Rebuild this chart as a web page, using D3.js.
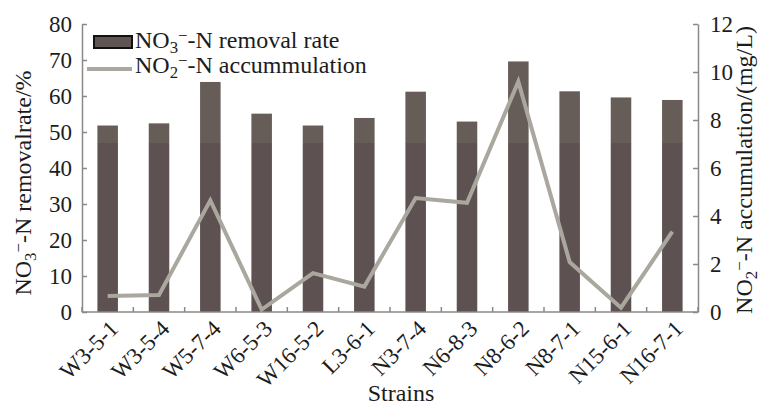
<!DOCTYPE html>
<html>
<head>
<meta charset="utf-8">
<script src="https://cdn.jsdelivr.net/npm/d3@7"></script>
<style>
  html, body { margin: 0; padding: 0; background: #fff; }
  svg { display: block; }
  svg text { font-family: "Liberation Serif", "Times New Roman", Times, serif !important; }
</style>
</head>
<body>
<svg id="chart" width="761" height="405"></svg>
<script>
// Strains tested and their measured values
const strains = ["W3-5-1", "W3-5-4", "W5-7-4", "W6-5-3", "W16-5-2", "L3-6-1",
                 "N3-7-4", "N6-8-3", "N8-6-2", "N8-7-1", "N15-6-1", "N16-7-1"];
// NO3--N removal rate (%)
const removalRate = [51.8, 52.4, 63.9, 55.1, 51.8, 53.9, 61.2, 52.9, 69.6, 61.3, 59.6, 58.9];
// NO2--N accumulation (mg/L)
const nitriteAccum = [0.67, 0.71, 4.65, 0.1, 1.62, 1.06, 4.75, 4.55, 9.6, 2.08, 0.18, 3.35];
// Axis ticks
const leftTicks = [0, 10, 20, 30, 40, 50, 60, 70, 80];
const rightTicks = [0, 2, 4, 6, 8, 10, 12];

const svg = d3.select("#chart");
const m = { left: 82, right: 698, top: 24, bottom: 312 };

const x = d3.scaleBand().domain(strains).range([m.left, m.right])
  .paddingInner(0.6).paddingOuter(0.3);
const yL = d3.scaleLinear().domain([0, 80]).range([m.bottom, m.top]);
const yR = d3.scaleLinear().domain([0, 12]).range([m.bottom, m.top]);

const axisColor = "#8e8787";
const textColor = "#1c1c1c";

// Two-tone bar fill
const defs = svg.append("defs");
const grad = defs.append("linearGradient").attr("id", "barFill")
  .attr("gradientUnits", "userSpaceOnUse")
  .attr("x1", 0).attr("x2", 0).attr("y1", yL(80)).attr("y2", yL(0));
const split = (yL(47) - yL(80)) / (yL(0) - yL(80));
grad.append("stop").attr("offset", 0).attr("stop-color", "#675d58");
grad.append("stop").attr("offset", split).attr("stop-color", "#675d58");
grad.append("stop").attr("offset", split).attr("stop-color", "#5e5151");
grad.append("stop").attr("offset", 1).attr("stop-color", "#5e5151");

// Bars
svg.append("g").selectAll("rect").data(strains).join("rect")
  .attr("x", d => x(d))
  .attr("width", x.bandwidth())
  .attr("y", (d, i) => yL(removalRate[i]))
  .attr("height", (d, i) => yL(0) - yL(removalRate[i]))
  .attr("fill", "url(#barFill)");

// Left axis
const gL = svg.append("g").attr("transform", `translate(${m.left},0)`)
  .call(d3.axisLeft(yL).tickValues(leftTicks).tickSizeInner(-5).tickSizeOuter(0).tickPadding(10));
// Right axis
const gR = svg.append("g").attr("transform", `translate(${m.right},0)`)
  .call(d3.axisRight(yR).tickValues(rightTicks).tickSizeInner(-5).tickSizeOuter(0).tickPadding(12));
[gL, gR].forEach(g => {
  g.select(".domain").attr("stroke", axisColor).attr("stroke-width", 1.5);
  g.selectAll(".tick line").attr("stroke", axisColor).attr("stroke-width", 1.5);
  g.selectAll(".tick text").attr("fill", textColor).style("font-size", "23px");
});

// Bottom axis with ticks at band boundaries
const step = x.step();
const bounds = strains.map(d => x(d) + x.bandwidth() / 2 - step / 2).concat([m.right]);
const gB = svg.append("g");
gB.append("line").attr("x1", m.left).attr("x2", m.right)
  .attr("y1", m.bottom).attr("y2", m.bottom)
  .attr("stroke", axisColor).attr("stroke-width", 1.5);
gB.selectAll("line.tk").data(bounds).join("line").attr("class", "tk")
  .attr("x1", d => d).attr("x2", d => d)
  .attr("y1", m.bottom).attr("y2", m.bottom - 5)
  .attr("stroke", axisColor).attr("stroke-width", 1.5);
gB.selectAll("text").data(strains).join("text")
  .attr("transform", d => `translate(${x(d) + x.bandwidth() / 2 + 12},${m.bottom + 18}) rotate(-45)`)
  .attr("text-anchor", "end")
  .attr("fill", textColor)
  .style("font-size", "23px")
  .text(d => d);

// Nitrite line
const line = d3.line()
  .x((d, i) => x(strains[i]) + x.bandwidth() / 2)
  .y(d => yR(d));
svg.append("path").datum(nitriteAccum)
  .attr("d", line)
  .attr("fill", "none")
  .attr("stroke", "#aaa79e")
  .attr("stroke-width", 4)
  .attr("stroke-linejoin", "miter");

// Helper for chemical formulas with sub/superscripts
function formula(sel, sub, rest) {
  sel.append("tspan").text("NO");
  sel.append("tspan").attr("baseline-shift", "-30%").style("font-size", "70%").text(sub);
  sel.append("tspan").attr("baseline-shift", "40%").style("font-size", "70%").text("−");
  sel.append("tspan").text(rest);
}

// Axis titles
const tL = svg.append("text")
  .attr("transform", "translate(31,183) rotate(-90)")
  .attr("text-anchor", "middle").attr("fill", textColor).style("font-size", "24px");
formula(tL, "3", "-N removalrate/%");

const tR = svg.append("text")
  .attr("transform", "translate(752,170) rotate(-90)")
  .attr("text-anchor", "middle").attr("fill", textColor).style("font-size", "24px");
formula(tR, "2", "-N accumulation/(mg/L)");

svg.append("text").attr("x", 401).attr("y", 401)
  .attr("text-anchor", "middle").attr("fill", textColor).style("font-size", "24px")
  .text("Strains");

// Legend
const lg = svg.append("g");
lg.append("rect").attr("x", 94).attr("y", 36).attr("width", 38).attr("height", 12)
  .attr("fill", "#5f5552").attr("stroke", "#111").attr("stroke-width", 2);
const l1 = lg.append("text").attr("x", 135).attr("y", 48)
  .attr("fill", textColor).style("font-size", "24px");
formula(l1, "3", "-N removal rate");
lg.append("line").attr("x1", 87).attr("x2", 132).attr("y1", 69).attr("y2", 69)
  .attr("stroke", "#aaa79e").attr("stroke-width", 4);
const l2 = lg.append("text").attr("x", 135).attr("y", 73)
  .attr("fill", textColor).style("font-size", "24px");
formula(l2, "2", "-N accummulation");
</script>
</body>
</html>
